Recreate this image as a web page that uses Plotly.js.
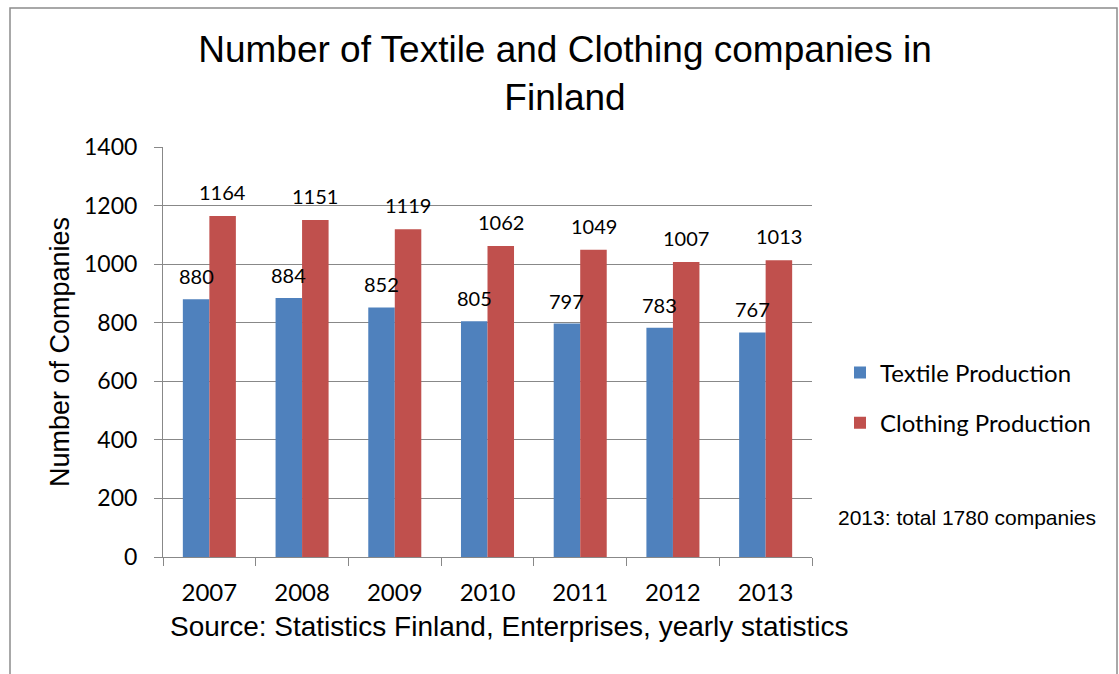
<!DOCTYPE html>
<html>
<head>
<meta charset="utf-8">
<script src="https://cdn.plot.ly/plotly-3.0.1.min.js"></script>
<style>
  html, body { margin: 0; padding: 0; background: #ffffff; }
  #chart { width: 1119px; height: 674px; }
</style>
</head>
<body>
<div id="chart"></div>
<script>
// ---- data ----
const years = ['2007', '2008', '2009', '2010', '2011', '2012', '2013'];
const textileProduction = [880, 884, 852, 805, 797, 783, 767];
const clothingProduction = [1164, 1151, 1119, 1062, 1049, 1007, 1013];
const seriesNames = ['Textile Production', 'Clothing Production'];
const yTicks = [0, 200, 400, 600, 800, 1000, 1200, 1400];
const chartTitle = 'Number of Textile and Clothing companies in<br>Finland';
const yTitle = 'Number of Companies';
const sourceNote = 'Source: Statistics Finland, Enterprises, yearly statistics';
const totalNote = '2013: total 1780 companies';

// ---- styles ----
const BLUE = '#4F81BD';
const RED = '#C0504D';
const GRID = '#888888';
const ARIAL = '"Liberation Sans", Arial, sans-serif';
const CAL = 'Lato, Carlito, Calibri, sans-serif';

const traces = [
  {
    type: 'bar', name: seriesNames[0], x: years, y: textileProduction,
    marker: { color: BLUE }, legendgroup: 'a', hoverinfo: 'x+y+name'
  },
  {
    type: 'bar', name: seriesNames[1], x: years, y: clothingProduction,
    marker: { color: RED }, legendgroup: 'b', hoverinfo: 'x+y+name'
  }
];

const annotations = [];
years.forEach((yr, i) => {
  // category axis: position by category serial number
  annotations.push({
    x: i, y: textileProduction[i], xref: 'x', yref: 'y',
    text: String(textileProduction[i]), showarrow: false,
    xshift: -13.3, yshift: 23, yanchor: 'middle',
    font: { family: CAL, size: 20, color: '#000' }
  });
  annotations.push({
    x: i, y: clothingProduction[i], xref: 'x', yref: 'y',
    text: String(clothingProduction[i]), showarrow: false,
    xshift: 13.3, yshift: 24, yanchor: 'middle',
    font: { family: CAL, size: 20, color: '#000' }
  });
});
// source note under the x axis
annotations.push({
  xref: 'paper', yref: 'paper', x: (509 - 163) / 649, y: (557 - 626) / 410,
  xanchor: 'center', yanchor: 'middle', showarrow: false,
  text: sourceNote, font: { family: ARIAL, size: 28, color: '#000' }
});
// total note on the right
annotations.push({
  xref: 'paper', yref: 'paper', x: (967 - 163) / 649, y: (557 - 517) / 410,
  xanchor: 'center', yanchor: 'middle', showarrow: false,
  text: totalNote, font: { family: ARIAL, size: 21, color: '#000' }
});

const layout = {
  width: 1119, height: 674,
  margin: { l: 163, r: 307, t: 147, b: 117, pad: 0 },
  paper_bgcolor: '#ffffff', plot_bgcolor: '#ffffff',
  title: {
    text: chartTitle,
    x: 565 / 1119, xanchor: 'center', xref: 'container',
    y: 1 - 62 / 674, yanchor: 'top', yref: 'container',
    font: { family: ARIAL, size: 37, color: '#000' }
  },
  barmode: 'group', bargap: 0.428, bargroupgap: 0,
  xaxis: {
    type: 'category', categoryorder: 'array', categoryarray: years,
    range: [-0.5, years.length - 0.5], autorange: false,
    showline: true, linecolor: GRID, linewidth: 1,
    ticks: 'outside', tickson: 'boundaries', ticklen: 8, tickcolor: GRID, tickwidth: 1,
    showgrid: false, zeroline: false, tickangle: 0,
    tickfont: { family: CAL, size: 24, color: '#000' },
    ticklabelstandoff: 14
  },
  yaxis: {
    range: [0, 1400], autorange: false, tickvals: yTicks, ticktext: yTicks.map(String),
    showline: true, linecolor: GRID, linewidth: 1,
    ticks: 'outside', ticklen: 8, tickcolor: GRID, tickwidth: 1,
    showgrid: true, gridcolor: GRID, gridwidth: 1, zeroline: false,
    tickfont: { family: CAL, size: 23, color: '#000' },
    ticklabelstandoff: 12,
    title: { text: yTitle, standoff: 6, font: { family: ARIAL, size: 27, color: '#000' } }
  },
  showlegend: true,
  legend: {
    x: (840 - 163) / 649, xanchor: 'left',
    y: (557 - 398) / 410, yanchor: 'middle',
    traceorder: 'grouped', tracegroupgap: 16,
    bgcolor: 'rgba(0,0,0,0)', borderwidth: 0,
    font: { family: CAL, size: 24, color: '#000' }
  },
  annotations: annotations,
  shapes: [{
    type: 'rect', xref: 'paper', yref: 'paper', layer: 'below',
    x0: (10 - 163) / 649, x1: (1117 - 163) / 649,
    y0: (557 - 690) / 410, y1: (557 - 8) / 410,
    line: { color: '#8c8c8c', width: 1.5 }, fillcolor: 'rgba(0,0,0,0)'
  }],
  font: { family: ARIAL, color: '#000' }
};

Plotly.newPlot('chart', traces, layout, { displayModeBar: false });
</script>
</body>
</html>
